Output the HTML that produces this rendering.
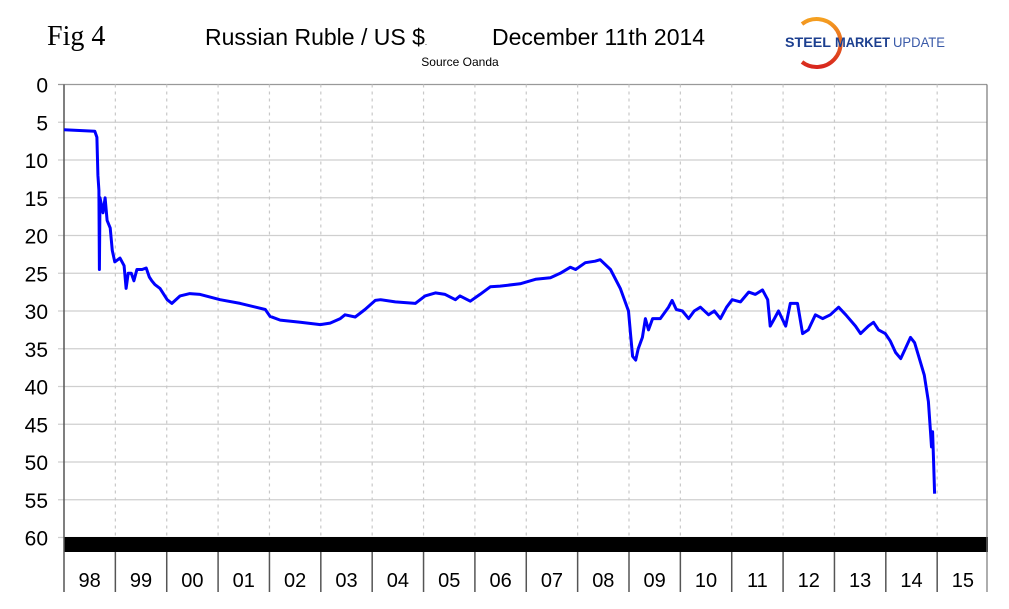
<!DOCTYPE html>
<html><head><meta charset="utf-8"><style>
body{margin:0;background:#fff;width:1009px;height:609px;overflow:hidden}
svg{display:block}
text{font-family:"Liberation Sans",sans-serif}
</style></head><body>
<svg id="chart" width="1009" height="609">
<defs><linearGradient id="arcg" x1="0" y1="0" x2="0" y2="1"><stop offset="0" stop-color="#f5a020"/><stop offset="1" stop-color="#d8261e"/></linearGradient></defs>
<text x="47" y="45" font-size="28" style="font-family:'Liberation Serif',serif">Fig 4</text>
<text x="205" y="45" font-size="23">Russian Ruble / US $<tspan font-size="8">.</tspan></text>
<text x="492" y="45" font-size="23">December 11th 2014</text>
<text x="460" y="66" font-size="12" text-anchor="middle">Source Oanda</text>
<g>
<path d="M802,24 A24,24 0 1 1 802,62" fill="none" stroke="url(#arcg)" stroke-width="4"/>
<text x="785" y="47" font-size="14" font-weight="bold" fill="#1c3f8f" textLength="46" lengthAdjust="spacingAndGlyphs">STEEL</text>
<text x="835" y="47" font-size="14" font-weight="bold" fill="#1c3f8f" textLength="55" lengthAdjust="spacingAndGlyphs">MARKET</text>
<text x="893" y="47" font-size="14" fill="#3a5aa8" textLength="52" lengthAdjust="spacingAndGlyphs">UPDATE</text>
</g>
<g id="grid"></g>
<g id="axes"></g>
<path id="line" fill="none" stroke="#0000ff" stroke-width="3" stroke-linejoin="round"/>
</svg>
<script>
const yTicks=[0,5,10,15,20,25,30,35,40,45,50,55,60];
const yearLabels=["98","99","00","01","02","03","04","05","06","07","08","09","10","11","12","13","14","15"];
const yearsSince1998=[0,0.60,0.64,0.66,0.68,0.69,0.70,0.76,0.80,0.84,0.90,0.94,0.99,1.09,1.17,1.21,1.25,1.31,1.36,1.42,1.52,1.60,1.66,1.71,1.77,1.87,2.01,2.10,2.26,2.45,2.65,3.04,3.43,3.92,4.01,4.21,4.60,4.99,5.18,5.38,5.47,5.67,5.86,6.06,6.16,6.45,6.84,7.03,7.23,7.42,7.62,7.71,7.91,8.10,8.30,8.49,8.88,9.18,9.47,9.66,9.86,9.96,10.15,10.34,10.44,10.64,10.83,10.99,11.03,11.07,11.13,11.18,11.26,11.32,11.38,11.46,11.61,11.77,11.84,11.92,12.04,12.16,12.27,12.39,12.55,12.66,12.78,12.90,13.01,13.17,13.33,13.46,13.60,13.70,13.75,13.83,13.91,14.05,14.14,14.28,14.38,14.49,14.63,14.77,14.92,15.08,15.22,15.41,15.51,15.66,15.76,15.86,15.99,16.09,16.19,16.29,16.38,16.48,16.56,16.64,16.75,16.83,16.87,16.89,16.91,16.93,16.95];
const rubPerUsd=[6.0,6.2,7,12,14,24.5,15,17,15,18,19,22,23.5,23,24,27,25,25,26,24.5,24.5,24.3,25.5,26,26.5,27,28.5,29,28,27.7,27.8,28.5,29,29.8,30.7,31.2,31.5,31.8,31.6,31,30.5,30.8,29.8,28.6,28.5,28.8,29,28,27.6,27.8,28.5,28,28.7,27.8,26.8,26.7,26.4,25.8,25.6,25.0,24.2,24.5,23.6,23.4,23.2,24.5,27,30,33,36,36.5,35,33.5,31,32.5,31,31,29.5,28.6,29.8,30,31,30,29.5,30.5,30,31,29.5,28.5,28.8,27.5,27.8,27.2,28.5,32,31,30,32,29,29,33,32.5,30.5,31,30.5,29.5,30.5,32,33,32,31.5,32.5,33,34,35.5,36.3,35,33.5,34.2,36,38.5,42,46,48,46,50,54.2];
const X0=64,X1=987,Y0=84.5,Y60=537.5,NY=17.97;
const xs=t=>X0+t*(X1-X0)/NY;
const ys=v=>Y0+v*(Y60-Y0)/60;
const NS="http://www.w3.org/2000/svg";
function mk(tag,attrs,parent){const e=document.createElementNS(NS,tag);for(const k in attrs)e.setAttribute(k,attrs[k]);parent.appendChild(e);return e;}
const grid=document.getElementById('grid'),axes=document.getElementById('axes');
yTicks.forEach(v=>{
  const l=mk('line',{x1:X0-6,x2:X1,y1:ys(v),y2:ys(v),stroke:v===0?'#999':'#cfcfcf','stroke-width':1.2},grid);
  
  
  const t=mk('text',{x:48,y:ys(v)+8,'font-size':21,'text-anchor':'end'},axes);
  t.textContent=v;
  
  
});
for(let i=1;i<yearLabels.length;i++){
  const l=mk('line',{x1:xs(i),x2:xs(i),y1:Y0,y2:Y60,stroke:'#c8c8c8','stroke-width':1.2,'stroke-dasharray':'3,4'},grid);
  
  
}
const band=mk('rect',{x:X0,y:537,width:X1-X0+1,height:15,fill:'#000'},axes);


mk('line',{x1:X0,x2:X0,y1:Y0,y2:592,stroke:'#555','stroke-width':1.5},axes);
mk('line',{x1:X1,x2:X1,y1:Y0,y2:592,stroke:'#777','stroke-width':1.2},axes);
for(let i=0;i<yearLabels.length;i++){
  if(i>0){mk('line',{x1:xs(i),x2:xs(i),y1:552,y2:592,stroke:'#555','stroke-width':1.5},axes);}
  const t=mk('text',{x:xs(i+0.5),y:587,'font-size':20,'text-anchor':'middle'},axes);
  t.textContent=yearLabels[i];
  
  
}
document.getElementById('line').setAttribute('d',yearsSince1998.map((t,i)=>(i?'L':'M')+xs(t).toFixed(1)+','+ys(rubPerUsd[i]).toFixed(1)).join(''));
</script>
</body></html>
